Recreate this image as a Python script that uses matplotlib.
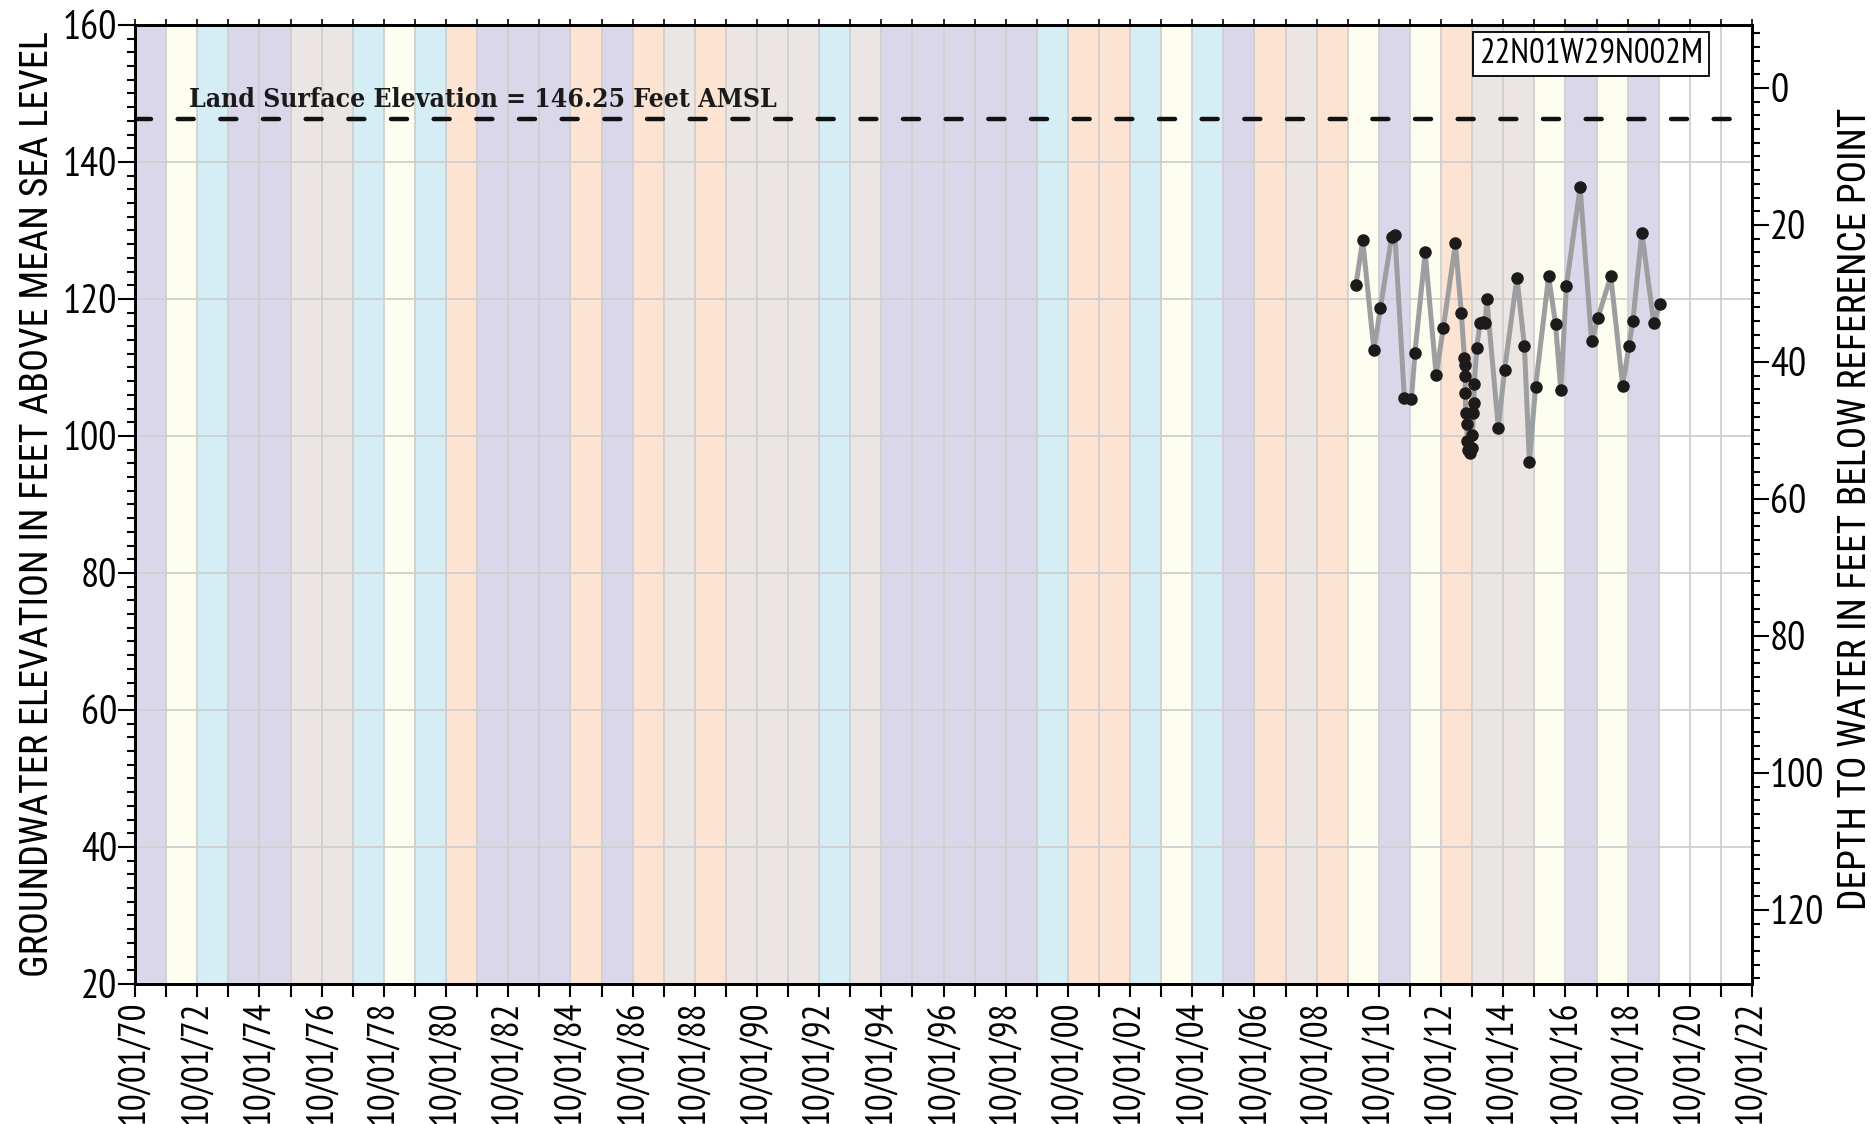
import matplotlib
matplotlib.use("Agg")
import matplotlib.pyplot as plt
import matplotlib.dates as mdates
from matplotlib.ticker import MultipleLocator
import pandas as pd

WELL_ID = "22N01W29N002M"
LAND_SURFACE = 146.25
RP_ELEV = 150.8  # reference point elevation (depth axis zero)

obs_dates = [
    "2010-01-05", "2010-03-25", "2010-08-04", "2010-10-19", "2011-02-28",
    "2011-04-08", "2011-07-27", "2011-10-19", "2011-11-28", "2012-03-28",
    "2012-08-04", "2012-10-27", "2013-03-18", "2013-05-27", "2013-07-02",
    "2013-07-06", "2013-07-09", "2013-07-13", "2013-07-16", "2013-07-31",
    "2013-08-04", "2013-08-18", "2013-09-05", "2013-09-27", "2013-10-04",
    "2013-10-15", "2013-10-22", "2013-10-26", "2013-11-24", "2014-01-01",
    "2014-02-03", "2014-03-04", "2014-03-22", "2014-08-04", "2014-10-16",
    "2015-03-11", "2015-06-07", "2015-08-04", "2015-10-16", "2016-03-17",
    "2016-06-06", "2016-08-07", "2016-10-12", "2017-03-22", "2017-08-04",
    "2017-10-16", "2018-03-17", "2018-08-04", "2018-10-16", "2018-12-02",
    "2019-03-17", "2019-08-04", "2019-10-16",
]
gw_elev = [
    122.1, 128.6, 112.5, 118.7, 129.05,
    129.3, 105.6, 105.4, 112.1, 126.8,
    108.9, 115.8, 128.1, 117.9, 111.4,
    110.4, 108.8, 106.3, 103.4, 101.8,
    99.3, 98.0, 97.5, 98.3, 100.2,
    103.3, 104.8, 107.6, 112.9, 116.5,
    116.7, 116.5, 120.0, 101.2, 109.6,
    123.1, 113.1, 96.2, 107.2, 123.3,
    116.4, 106.7, 121.9, 136.3, 113.8,
    117.2, 123.3, 107.3, 113.1, 116.8,
    129.7, 116.5, 119.3,
]

# Sacramento Valley water year types, WY1971 .. WY2019
wy_start = 1971
wy_types = [
    "W", "BN", "AN", "W", "W", "C", "C", "AN", "BN", "AN",
    "D", "W", "W", "W", "D", "W", "D", "C", "D", "C",
    "C", "C", "AN", "C", "W", "W", "W", "W", "W", "AN",
    "D", "D", "AN", "BN", "AN", "W", "D", "C", "D", "BN",
    "W", "BN", "D", "C", "C", "BN", "W", "BN", "W",
]
wy_colors = {
    "W": "#dad7eb",
    "AN": "#d5eef6",
    "BN": "#fdfdf0",
    "D": "#fde3d2",
    "C": "#ebe6e4",
}

SANS = ["PT Sans Narrow", "Roboto Condensed", "Liberation Sans Narrow", "DejaVu Sans"]
SANS_LBL = ["Roboto Condensed", "PT Sans Narrow", "DejaVu Sans"]
SERIF = ["DejaVu Serif"]

fig = plt.figure(figsize=(18.71, 11.24), dpi=100)
ax = fig.add_axes([0.0722, 0.1246, 0.8642, 0.8532])

# water-year background bands
for i, t in enumerate(wy_types):
    y = wy_start + i
    ax.axvspan(pd.Timestamp(f"{y - 1}-10-01"), pd.Timestamp(f"{y}-10-01"),
               color=wy_colors[t], lw=0, zorder=0)

ax.set_xlim(pd.Timestamp("1970-10-01"), pd.Timestamp("2022-10-01"))
ax.set_ylim(20, 160)

years = mdates.YearLocator(1, month=10, day=1)
ax.xaxis.set_major_locator(mdates.YearLocator(2, month=10, day=1))
ax.xaxis.set_minor_locator(years)
ax.xaxis.set_major_formatter(mdates.DateFormatter("%m/%d/%y"))
ax.yaxis.set_major_locator(MultipleLocator(20))
ax.yaxis.set_minor_locator(MultipleLocator(2))

ax.grid(True, which="major", axis="y", color="#cfcfcf", lw=1.3, zorder=1)
ax.grid(True, which="both", axis="x", color="#cfcfcf", lw=1.3, zorder=1)

ax.tick_params(axis="x", which="both", direction="out", length=9, width=1.5,
               labelsize=27, labelrotation=90, pad=3)
ax.tick_params(axis="y", which="major", direction="out", length=12, width=1.5,
               labelsize=29, pad=1)
ax.tick_params(axis="y", which="minor", direction="out", length=6, width=1.5)
for lab in ax.get_xticklabels() + ax.get_yticklabels():
    lab.set_fontfamily(SANS)
for s in ax.spines.values():
    s.set_linewidth(2)

# top ticks
top = ax.secondary_xaxis("top")
top.xaxis.set_major_locator(years)
top.tick_params(axis="x", direction="out", length=4, width=1.2, labeltop=False)
top.spines["top"].set_visible(False)

# land surface line
ax.axhline(LAND_SURFACE, color="#111111", lw=3.2, linestyle=(0, (3.6, 6.0)),
           dash_capstyle="round", zorder=3)
ax.text(pd.Timestamp("1972-07-01"), 148.0,
        f"Land Surface Elevation = {LAND_SURFACE} Feet AMSL",
        fontfamily=SERIF, fontstretch="condensed", fontweight="bold",
        fontsize=19, color="#1a1a1a", va="baseline", ha="left", zorder=4)

# hydrograph
d = pd.to_datetime(obs_dates)
ax.plot(d, gw_elev, color="#9d9ea0", lw=3.6, zorder=5)
ax.plot(d, gw_elev, "o", color="#1c1a1b", ms=8, zorder=6)

ax.set_ylabel("GROUNDWATER ELEVATION IN FEET ABOVE MEAN SEA LEVEL",
              fontfamily=SANS_LBL, fontsize=27.5)
ax.yaxis.set_label_coords(-0.049, 0.5)

# depth-to-water axis
ax2 = ax.twinx()
ax2.set_ylim(RP_ELEV - 20, RP_ELEV - 160)
ax2.yaxis.set_major_locator(MultipleLocator(20))
ax2.yaxis.set_minor_locator(MultipleLocator(2))
ax2.tick_params(axis="y", which="major", direction="out", length=12, width=1.5,
                labelsize=29, pad=1)
ax2.tick_params(axis="y", which="minor", direction="out", length=6, width=1.5)
for lab in ax2.get_yticklabels():
    lab.set_fontfamily(SANS)
for s in ax2.spines.values():
    s.set_linewidth(2)
ax2.set_ylabel("DEPTH TO WATER IN FEET BELOW REFERENCE POINT",
               fontfamily=SANS_LBL, fontsize=27)
ax2.yaxis.set_label_coords(1.0525, 0.495)

ax.text(0.9697, 0.9864, WELL_ID, transform=ax.transAxes, ha="right", va="top",
        fontfamily=SANS, fontsize=25, zorder=7,
        bbox=dict(boxstyle="square,pad=0.18", fc="white", ec="black", lw=1.3))

fig.savefig("out.png", dpi=100)
